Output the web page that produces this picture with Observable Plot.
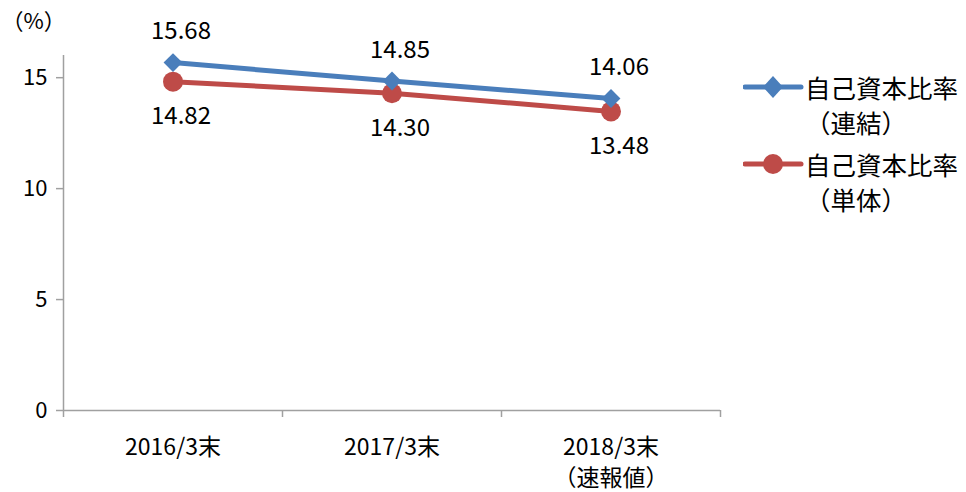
<!DOCTYPE html>
<html><head><meta charset="utf-8">
<script src="https://cdn.jsdelivr.net/npm/d3@7"></script>
<script src="https://cdn.jsdelivr.net/npm/@observablehq/plot@0.6"></script>
<style>
html,body{margin:0;padding:0;background:#fff;}
#wrap{position:relative;width:966px;height:492px;font-family:"Noto Sans CJK JP",sans-serif;}
#legend{position:absolute;left:743px;top:69px;font-size:25.5px;line-height:35px;color:#000;}
.item{display:flex;align-items:flex-start;margin-bottom:7px;}
.item svg{flex:none;margin-top:0px;}
</style></head>
<body><div id="wrap"><div id="legend"></div></div>
<script>
const categories = ["2016/3末", "2017/3末", "2018/3末\n（速報値）"];
const consolidated = [15.68, 14.85, 14.06];
const standalone = [14.82, 14.30, 13.48];
const yTicks = [0, 5, 10, 15];
const seriesNames = ["自己資本比率\n（連結）", "自己資本比率\n（単体）"];
const colors = ["#4A7EBB", "#BE4B48"];

const rows = [];
categories.forEach((c, i) => {
  rows.push({i: i + 0.5, v: consolidated[i], s: seriesNames[0]});
  rows.push({i: i + 0.5, v: standalone[i], s: seriesNames[1]});
});
const blue = rows.filter(d => d.s === seriesNames[0]);
const red = rows.filter(d => d.s === seriesNames[1]);
const axisGray = "#a0a0a0";

const chart = Plot.plot({
  width: 966, height: 492,
  marginLeft: 63, marginRight: 246, marginTop: 55, marginBottom: 82,
  style: {fontFamily: '"Noto Sans CJK JP", sans-serif', fontSize: "21px", color: "#000", background: "transparent"},
  x: {domain: [0, categories.length], axis: null},
  y: {domain: [0, 16], axis: null},
  marks: [
    Plot.ruleX([0], {y1: 0, y2: 16, stroke: axisGray, strokeWidth: 1.5}),
    Plot.ruleY([0], {stroke: axisGray, strokeWidth: 1.5}),
    Plot.axisY({ticks: yTicks, tickSize: 7, tickPadding: 9, stroke: axisGray, strokeWidth: 1.5, label: null, fontSize: 22, color: "#000"}),
    Plot.axisX({ticks: d3.range(categories.length + 1), tickSize: 7, tickFormat: () => "", stroke: axisGray, strokeWidth: 1.5, label: null}),
    Plot.text(categories, {x: (d, i) => i + 0.5, y: 0, text: d => d, lineAnchor: "top", dy: 22, fontSize: 23, lineHeight: 1.36, fill: "#000"}),
    Plot.text(["（%）"], {frameAnchor: "top-left", text: d => d, dx: -62, dy: -42, fontSize: 22, textAnchor: "start", fill: "#000"}),
    Plot.line(red, {x: "i", y: "v", stroke: colors[1], strokeWidth: 5}),
    Plot.line(blue, {x: "i", y: "v", stroke: colors[0], strokeWidth: 5}),
    Plot.dot(red, {x: "i", y: "v", r: 10, fill: colors[1], stroke: "none"}),
    Plot.dot(blue, {x: "i", y: "v", symbol: "diamond2", r: 8.5, fill: colors[0], stroke: "none"}),
    Plot.text(blue, {x: "i", y: "v", text: d => d.v.toFixed(2), dy: -31, dx: 8, fontSize: 24, fill: "#000"}),
    Plot.text(red, {x: "i", y: "v", text: d => d.v.toFixed(2), dy: 35, dx: 8, fontSize: 24, fill: "#000"})
  ]
});
document.getElementById("wrap").prepend(chart);
chart.style.position = "absolute"; chart.style.left = "0"; chart.style.top = "0";

const legend = document.getElementById("legend");
seriesNames.forEach((name, k) => {
  const item = document.createElement("div");
  item.className = "item";
  const sym = k === 0
    ? `<polygon points="30,7 40,18 30,29 20,18" fill="${colors[0]}"/>`
    : `<circle cx="30" cy="18" r="10" fill="${colors[1]}"/>`;
  item.innerHTML = `<svg width="62" height="36"><line x1="2" x2="58" y1="18" y2="18" stroke="${colors[k]}" stroke-width="5" stroke-linecap="round"/>${sym}</svg><div>${name.replace("\n", "<br>")}</div>`;
  legend.appendChild(item);
});
</script></body></html>
